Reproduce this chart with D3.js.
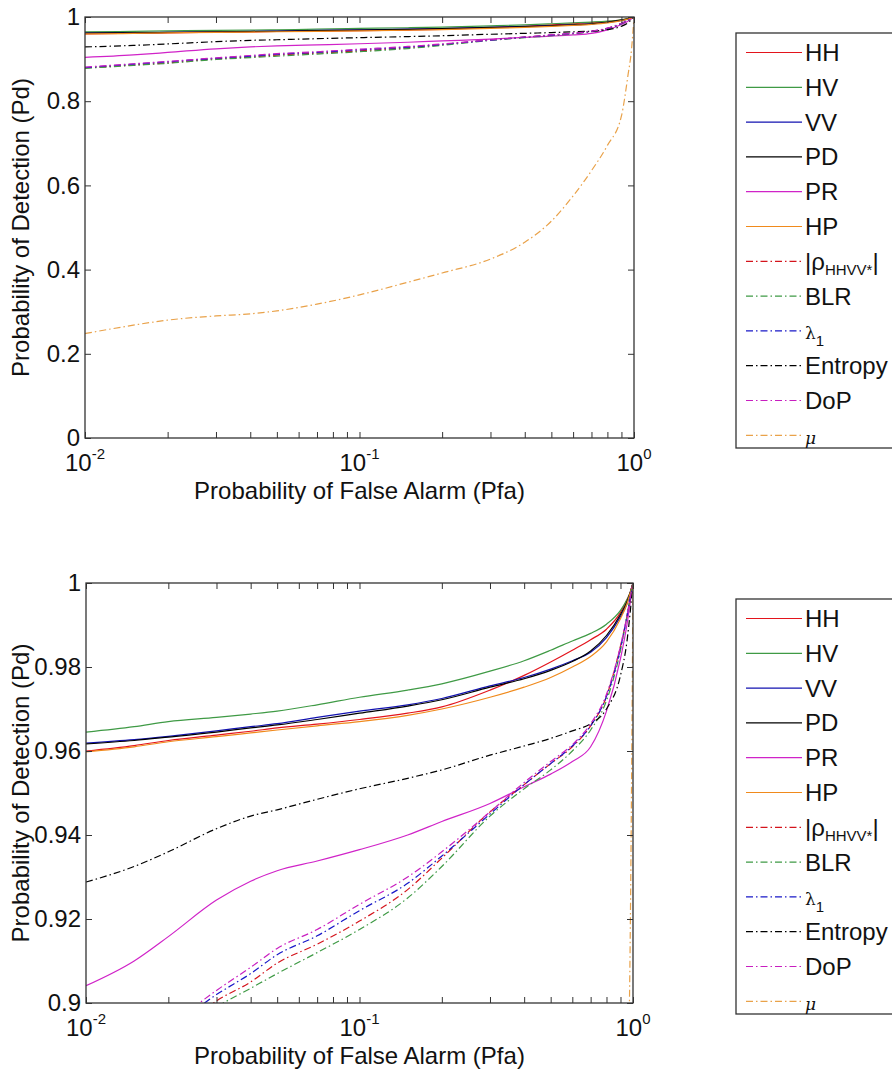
<!DOCTYPE html>
<html>
<head>
<meta charset="utf-8">
<script src="https://cdn.jsdelivr.net/npm/d3@7"></script>
<style>
  html, body { margin: 0; padding: 0; background: #fff; }
  #viz { width: 892px; height: 1073px; }
  text { font-family: "Liberation Sans", Arial, Helvetica, sans-serif; fill: #111; }
</style>
</head>
<body>
<div id="viz"></div>
<script>
// -----------------------------
// DATA
// -----------------------------
const pfa = [0.01, 0.015, 0.02, 0.03, 0.04, 0.05, 0.07, 0.1, 0.15, 0.2,
             0.3, 0.4, 0.5, 0.6, 0.7, 0.8, 0.9, 0.95, 0.98, 1.0];

const pdHH      = [0.960, 0.9613, 0.9625, 0.9638, 0.9647, 0.9655, 0.9664, 0.9675, 0.969, 0.9705, 0.9745, 0.978, 0.9812, 0.984, 0.9865, 0.989, 0.993, 0.996, 0.998, 1];
const pdHV      = [0.9645, 0.9658, 0.967, 0.968, 0.9688, 0.9695, 0.971, 0.9728, 0.9745, 0.976, 0.979, 0.9815, 0.984, 0.9862, 0.988, 0.9902, 0.9935, 0.996, 0.998, 1];
const pdVV      = [0.9619, 0.9627, 0.9635, 0.9648, 0.9658, 0.9665, 0.968, 0.9695, 0.971, 0.9725, 0.9755, 0.9775, 0.9795, 0.9815, 0.9835, 0.987, 0.992, 0.995, 0.998, 1];
const pdPD      = [0.9617, 0.9625, 0.9633, 0.9645, 0.9655, 0.9662, 0.9675, 0.969, 0.9707, 0.9722, 0.9752, 0.9772, 0.9792, 0.9813, 0.9838, 0.9875, 0.9925, 0.9955, 0.998, 1];
const pdPR      = [0.9041, 0.910, 0.9158, 0.9245, 0.929, 0.9315, 0.9338, 0.9365, 0.940, 0.9432, 0.9475, 0.9515, 0.9545, 0.9575, 0.961, 0.9695, 0.982, 0.990, 0.996, 1];
const pdHP      = [0.9598, 0.961, 0.9622, 0.9634, 0.9643, 0.965, 0.966, 0.967, 0.9685, 0.970, 0.9728, 0.9752, 0.9775, 0.980, 0.9825, 0.986, 0.9915, 0.995, 0.998, 1];
const pdRho     = [0.879, 0.886, 0.891, 0.9005, 0.905, 0.9095, 0.914, 0.9195, 0.927, 0.9345, 0.9455, 0.952, 0.957, 0.961, 0.966, 0.973, 0.985, 0.992, 0.997, 1];
const pdBLR     = [0.878, 0.885, 0.890, 0.899, 0.9035, 0.907, 0.912, 0.9175, 0.925, 0.9325, 0.9445, 0.951, 0.9555, 0.960, 0.965, 0.972, 0.984, 0.992, 0.997, 1];
const pdLambda1 = [0.880, 0.888, 0.8935, 0.902, 0.907, 0.9115, 0.916, 0.922, 0.9285, 0.935, 0.945, 0.952, 0.957, 0.9612, 0.966, 0.973, 0.9845, 0.992, 0.997, 1];
const pdEntropy = [0.9288, 0.9325, 0.936, 0.9415, 0.9445, 0.946, 0.9485, 0.951, 0.9535, 0.9555, 0.959, 0.9612, 0.963, 0.9648, 0.9665, 0.970, 0.978, 0.986, 0.994, 1];
const pdDoP     = [0.881, 0.889, 0.8945, 0.903, 0.9085, 0.913, 0.9175, 0.9235, 0.930, 0.936, 0.9455, 0.9525, 0.9575, 0.9615, 0.9665, 0.9735, 0.985, 0.992, 0.997, 1];
const pdMu      = [0.248, 0.268, 0.28, 0.29, 0.295, 0.302, 0.318, 0.34, 0.37, 0.392, 0.425, 0.465, 0.515, 0.575, 0.635, 0.695, 0.765, 0.86, 0.925, 1.0];

const seriesNames = ["HH", "HV", "VV", "PD", "PR", "HP", "rho", "BLR", "lambda1", "Entropy", "DoP", "mu"];
const seriesValues = [pdHH, pdHV, pdVV, pdPD, pdPR, pdHP, pdRho, pdBLR, pdLambda1, pdEntropy, pdDoP, pdMu];

const topYTicks = [0, 0.2, 0.4, 0.6, 0.8, 1];
const bottomYTicks = [0.9, 0.92, 0.94, 0.96, 0.98, 1];
const decadeTicks = [0.01, 0.1, 1];
const decadeExp = ["-2", "-1", "0"];

// -----------------------------
// STYLES
// -----------------------------
const COLORS = ["#e3141c", "#3f9a45", "#1212b0", "#000000", "#d023c8", "#f08a1c",
                "#d4141c", "#3f9a45", "#1818c8", "#000000", "#c81ec0", "#e9a24a"];
const DASHED = [false, false, false, false, false, false, true, true, true, true, true, true];
const DASH = "7,3,1.5,3";
const FONT = 24;

const svg = d3.select("#viz")
  .append("svg")
  .attr("width", 892)
  .attr("height", 1073)
  .style("display", "block");

const panels = [
  { id: "top", left: 85, right: 634, top: 17, bottom: 438, yDomain: [0, 1], yTicks: topYTicks, legendTop: 33 },
  { id: "bot", left: 86, right: 633, top: 583, bottom: 1003, yDomain: [0.9, 1], yTicks: bottomYTicks, legendTop: 599 }
];

// minor + major ticks for log axis
const logTicks = [];
[0.01, 0.1].forEach(d => { for (let k = 1; k < 10; k++) logTicks.push(+(d * k).toFixed(3)); });
logTicks.push(1);

const fmt = d => String(+d.toFixed(2));

function drawPanel(p) {
  const x = d3.scaleLog().domain([0.01, 1]).range([p.left, p.right]);
  const y = d3.scaleLinear().domain(p.yDomain).range([p.bottom, p.top]);
  const g = svg.append("g");

  g.append("clipPath").attr("id", "clip-" + p.id)
    .append("rect")
    .attr("x", p.left).attr("y", p.top)
    .attr("width", p.right - p.left).attr("height", p.bottom - p.top);

  // curves
  const line = d3.line()
    .x(d => x(d[0]))
    .y(d => y(d[1]))
    .curve(d3.curveMonotoneX);

  const curves = g.append("g").attr("clip-path", `url(#clip-${p.id})`);
  seriesValues.forEach((vals, i) => {
    curves.append("path")
      .datum(pfa.map((f, j) => [f, vals[j]]))
      .attr("d", line)
      .attr("fill", "none")
      .attr("stroke", COLORS[i])
      .attr("stroke-width", 1.2)
      .attr("stroke-dasharray", DASHED[i] ? DASH : null);
  });

  // axes with inward ticks
  const axisStyle = sel => {
    sel.select(".domain").remove();
    sel.selectAll(".tick line").attr("stroke", "#333").attr("stroke-width", 1);
    sel.selectAll(".tick text").attr("font-size", FONT).attr("fill", "#111")
      .attr("font-family", "Liberation Sans, Arial, sans-serif");
  };

  g.append("g").attr("transform", `translate(${p.left},0)`)
    .call(d3.axisLeft(y).tickValues(p.yTicks).tickFormat(fmt).tickSizeInner(-6).tickSizeOuter(0).tickPadding(5))
    .call(axisStyle);
  g.append("g").attr("transform", `translate(${p.right},0)`)
    .call(d3.axisRight(y).tickValues(p.yTicks).tickFormat("").tickSizeInner(-6).tickSizeOuter(0))
    .call(axisStyle);
  g.append("g").attr("transform", `translate(0,${p.bottom})`)
    .call(d3.axisBottom(x).tickValues(logTicks).tickFormat("").tickSizeInner(-6).tickSizeOuter(0))
    .call(axisStyle);
  g.append("g").attr("transform", `translate(0,${p.top})`)
    .call(d3.axisTop(x).tickValues(logTicks).tickFormat("").tickSizeInner(-6).tickSizeOuter(0))
    .call(axisStyle);

  // box
  g.append("rect")
    .attr("x", p.left).attr("y", p.top)
    .attr("width", p.right - p.left).attr("height", p.bottom - p.top)
    .attr("fill", "none").attr("stroke", "#333").attr("stroke-width", 1.3);

  // decade labels 10^n
  decadeTicks.forEach((d, i) => {
    const t = g.append("text")
      .attr("x", x(d))
      .attr("y", p.bottom + 33)
      .attr("text-anchor", "middle")
      .attr("font-size", FONT);
    t.append("tspan").text("10");
    t.append("tspan").attr("font-size", 15).attr("dy", -12).text(decadeExp[i]);
  });

  // axis labels
  g.append("text")
    .attr("x", (p.left + p.right) / 2)
    .attr("y", p.bottom + 61)
    .attr("text-anchor", "middle")
    .attr("font-size", FONT)
    .text("Probability of False Alarm (Pfa)");

  g.append("text")
    .attr("transform", `translate(29,${(p.top + p.bottom) / 2}) rotate(-90)`)
    .attr("text-anchor", "middle")
    .attr("font-size", FONT)
    .text("Probability of Detection (Pd)");

  drawLegend(p.legendTop);
}

// -----------------------------
// LEGEND
// -----------------------------
function drawLegend(top) {
  const lg = svg.append("g").attr("transform", `translate(736,${top})`);
  lg.append("rect")
    .attr("x", 0).attr("y", 0)
    .attr("width", 170).attr("height", 415)
    .attr("fill", "#fff").attr("stroke", "#333").attr("stroke-width", 1.3);

  seriesNames.forEach((name, i) => {
    const cy = 19.5 + i * 34.8;
    lg.append("line")
      .attr("x1", 10).attr("x2", 66)
      .attr("y1", cy).attr("y2", cy)
      .attr("stroke", COLORS[i])
      .attr("stroke-width", 1.2)
      .attr("stroke-dasharray", DASHED[i] ? DASH : null);

    const t = lg.append("text")
      .attr("x", 69)
      .attr("y", cy + 8.5)
      .attr("font-size", FONT);

    if (name === "rho") {
      t.append("tspan").text("|ρ");
      t.append("tspan").attr("font-size", 15).attr("dy", 5).text("HHVV*");
      t.append("tspan").attr("dy", -5).text("|");
    } else if (name === "lambda1") {
      t.append("tspan").attr("font-family", "DejaVu Serif, serif").attr("font-size", 17).text("λ");
      t.append("tspan").attr("font-size", 15).attr("dy", 7).text("1");
    } else if (name === "mu") {
      t.append("tspan").attr("font-family", "DejaVu Serif, serif").attr("font-style", "italic").attr("font-size", 17).text("μ");
    } else {
      t.text(name);
    }
  });
}

panels.forEach(drawPanel);
</script>
</body>
</html>
